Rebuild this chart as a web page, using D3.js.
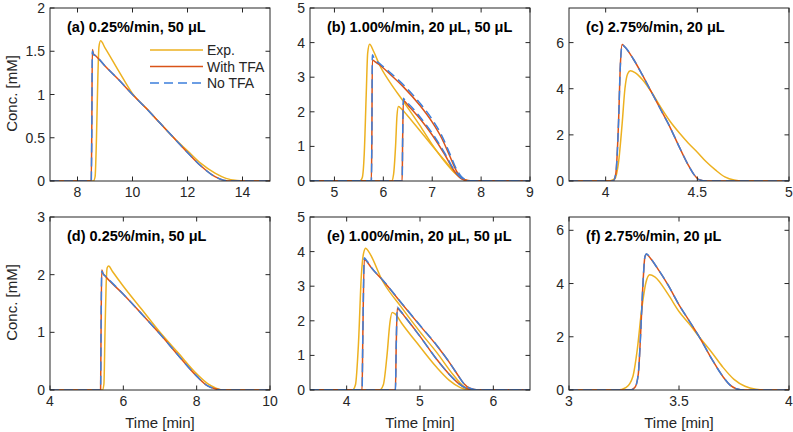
<!DOCTYPE html>
<html>
<head>
<meta charset="utf-8">
<script src="https://cdn.jsdelivr.net/npm/d3@7"></script>
<style>
  body { margin: 0; background: #fff; }
  svg { display: block; font-family: "Liberation Sans", Arial, sans-serif; }
</style>
</head>
<body>
<svg id="chart" width="793" height="432"></svg>
<script>
// [time, conc] pairs
const aExp  = [[7,0],[8.58,0],[8.64,0.05],[8.69,0.5],[8.74,1.2],[8.78,1.55],[8.84,1.62],[9.0,1.54],[9.5,1.27],[10,1.01],[10.5,0.84],[11,0.67],[11.5,0.5],[12,0.35],[12.5,0.2],[13,0.09],[13.4,0.03],[13.8,0.005],[14,0],[15,0]];
const aWith = [[7,0],[8.5,0],[8.52,0.6],[8.54,1.52],[8.58,1.47],[8.65,1.45],[9,1.33],[9.5,1.17],[10,1.0],[10.5,0.84],[11,0.67],[11.5,0.5],[12,0.33],[12.5,0.17],[13,0.05],[13.3,0.01],[13.6,0],[15,0]];
const aNo   = [[7,0],[8.5,0],[8.52,0.6],[8.54,1.5],[8.58,1.46],[8.65,1.45],[9,1.33],[9.5,1.17],[10,1.0],[10.5,0.84],[11,0.67],[11.5,0.5],[12,0.33],[12.5,0.17],[13,0.05],[13.3,0.01],[13.6,0],[15,0]];

const bExp1  = [[4.5,0],[5.52,0],[5.57,0.1],[5.61,0.8],[5.65,2.5],[5.68,3.7],[5.72,3.95],[5.8,3.75],[5.92,3.36],[6.15,2.82],[6.41,2.3],[6.75,1.6],[7.0,1.05],[7.25,0.57],[7.5,0.18],[7.65,0.04],[7.8,0],[9,0]];
const bExp2  = [[4.5,0],[6.17,0],[6.21,0.2],[6.25,1.0],[6.28,1.9],[6.31,2.15],[6.36,2.1],[6.5,1.88],[6.75,1.45],[7.0,1.02],[7.25,0.6],[7.5,0.2],[7.65,0.04],[7.8,0],[9,0]];
const bWith1 = [[4.5,0],[5.755,0],[5.765,1.2],[5.775,3.5],[5.82,3.46],[5.92,3.36],[6.15,3.07],[6.41,2.72],[6.75,2.18],[7.0,1.7],[7.2,1.22],[7.35,0.75],[7.5,0.28],[7.6,0.1],[7.7,0.02],[7.85,0],[9,0]];
const bNo1   = [[4.5,0],[5.755,0],[5.765,1.2],[5.775,3.65],[5.82,3.52],[5.92,3.4],[6.15,3.12],[6.41,2.78],[6.75,2.25],[7.0,1.78],[7.2,1.3],[7.35,0.82],[7.5,0.33],[7.6,0.12],[7.7,0.03],[7.85,0],[9,0]];
const bWith2 = [[4.5,0],[6.385,0],[6.395,1.2],[6.41,2.33],[6.45,2.28],[6.5,2.2],[6.75,1.8],[7.0,1.33],[7.25,0.78],[7.45,0.29],[7.6,0.06],[7.75,0],[9,0]];
const bNo2   = [[4.5,0],[6.385,0],[6.395,1.2],[6.41,2.39],[6.45,2.31],[6.5,2.25],[6.75,1.85],[7.0,1.38],[7.25,0.82],[7.45,0.32],[7.6,0.08],[7.75,0],[9,0]];

const cExp  = [[3.8,0],[4.02,0],[4.05,0.1],[4.07,0.8],[4.09,2.5],[4.105,4.0],[4.12,4.65],[4.135,4.78],[4.16,4.7],[4.2,4.4],[4.25,3.85],[4.3,3.2],[4.35,2.6],[4.4,2.1],[4.45,1.65],[4.5,1.25],[4.55,0.82],[4.6,0.47],[4.65,0.18],[4.7,0.04],[4.75,0],[5,0]];
const cWith = [[3.8,0],[4.04,0],[4.055,0.3],[4.07,2.5],[4.08,5.0],[4.09,5.92],[4.1,5.85],[4.15,5.3],[4.2,4.6],[4.25,3.85],[4.3,3.1],[4.35,2.35],[4.4,1.5],[4.45,0.7],[4.48,0.3],[4.51,0.06],[4.55,0],[5,0]];
const cNo   = [[3.8,0],[4.04,0],[4.055,0.3],[4.07,2.5],[4.08,5.0],[4.09,5.9],[4.1,5.85],[4.15,5.3],[4.2,4.6],[4.25,3.85],[4.3,3.1],[4.35,2.35],[4.4,1.5],[4.45,0.7],[4.48,0.3],[4.51,0.06],[4.55,0],[5,0]];

const dExp  = [[4,0],[5.43,0],[5.47,0.1],[5.5,1.0],[5.53,1.8],[5.56,2.12],[5.6,2.15],[5.7,2.06],[6,1.8],[6.5,1.4],[7,1.0],[7.5,0.64],[8,0.28],[8.3,0.11],[8.5,0.04],[8.7,0],[10,0]];
const dWith = [[4,0],[5.38,0],[5.39,0.8],[5.41,2.08],[5.45,2.02],[5.5,1.98],[6,1.66],[6.5,1.32],[7,0.97],[7.5,0.6],[8,0.24],[8.3,0.07],[8.5,0.02],[8.7,0],[10,0]];
const dNo   = [[4,0],[5.38,0],[5.39,0.8],[5.41,2.06],[5.45,2.01],[5.5,1.98],[6,1.66],[6.5,1.32],[7,0.97],[7.5,0.6],[8,0.24],[8.3,0.07],[8.5,0.02],[8.7,0],[10,0]];

const eExp1  = [[3.5,0],[4.08,0],[4.12,0.15],[4.16,1.3],[4.2,3.3],[4.23,3.95],[4.26,4.1],[4.3,4.0],[4.49,3.15],[4.75,2.38],[5.0,1.68],[5.23,1.08],[5.45,0.45],[5.6,0.1],[5.7,0.01],[5.8,0],[6.5,0]];
const eExp2  = [[3.5,0],[4.45,0],[4.5,0.15],[4.55,1.0],[4.59,1.95],[4.62,2.24],[4.66,2.2],[4.75,1.93],[5.0,1.25],[5.23,0.65],[5.4,0.28],[5.55,0.07],[5.7,0],[6.5,0]];
const eWith1 = [[3.5,0],[4.21,0],[4.22,1.5],[4.24,3.78],[4.28,3.7],[4.33,3.55],[4.5,3.15],[4.75,2.5],[5.0,1.86],[5.23,1.28],[5.4,0.8],[5.52,0.42],[5.6,0.18],[5.68,0.05],[5.8,0],[6.5,0]];
const eNo1   = [[3.5,0],[4.21,0],[4.22,1.5],[4.24,3.82],[4.28,3.72],[4.33,3.56],[4.5,3.16],[4.75,2.51],[5.0,1.87],[5.23,1.29],[5.4,0.8],[5.52,0.42],[5.6,0.18],[5.68,0.05],[5.8,0],[6.5,0]];
const eWith2 = [[3.5,0],[4.665,0],[4.675,1.2],[4.69,2.36],[4.72,2.31],[4.8,2.1],[5.0,1.55],[5.23,0.88],[5.4,0.45],[5.52,0.2],[5.62,0.06],[5.75,0],[6.5,0]];
const eNo2   = [[3.5,0],[4.665,0],[4.675,1.2],[4.69,2.39],[4.72,2.32],[4.8,2.1],[5.0,1.55],[5.23,0.88],[5.4,0.45],[5.52,0.2],[5.62,0.06],[5.75,0],[6.5,0]];

const fExp  = [[3,0],[3.22,0],[3.26,0.1],[3.29,0.5],[3.31,1.5],[3.33,3.0],[3.35,4.05],[3.367,4.33],[3.39,4.25],[3.45,3.6],[3.5,2.95],[3.55,2.45],[3.594,1.97],[3.65,1.4],[3.7,0.85],[3.75,0.4],[3.8,0.14],[3.85,0.03],[3.9,0],[4,0]];
const fWith = [[3,0],[3.28,0],[3.3,0.1],[3.315,0.6],[3.325,2.0],[3.335,3.8],[3.345,5.0],[3.352,5.1],[3.37,4.95],[3.4,4.6],[3.45,3.95],[3.5,3.2],[3.55,2.55],[3.594,1.97],[3.65,1.15],[3.7,0.5],[3.73,0.2],[3.76,0.05],[3.8,0],[4,0]];
const fNo   = [[3,0],[3.28,0],[3.3,0.1],[3.315,0.6],[3.325,2.0],[3.335,3.8],[3.345,5.0],[3.352,5.12],[3.37,4.96],[3.4,4.6],[3.45,3.95],[3.5,3.2],[3.55,2.55],[3.594,1.97],[3.65,1.15],[3.7,0.5],[3.73,0.2],[3.76,0.05],[3.8,0],[4,0]];

const panels = [
  {title: "(a) 0.25%/min, 50 μL", x: [7, 15], xt: [8, 10, 12, 14], y: [0, 2], yt: [0, 0.5, 1, 1.5, 2], exp: [aExp], withTFA: [aWith], noTFA: [aNo]},
  {title: "(b) 1.00%/min, 20 μL, 50 μL", x: [4.5, 9], xt: [5, 6, 7, 8, 9], y: [0, 5], yt: [0, 1, 2, 3, 4, 5], exp: [bExp1, bExp2], withTFA: [bWith1, bWith2], noTFA: [bNo1, bNo2]},
  {title: "(c) 2.75%/min, 20 μL", x: [3.8, 5], xt: [4, 4.5, 5], y: [0, 7.5], yt: [0, 2, 4, 6], exp: [cExp], withTFA: [cWith], noTFA: [cNo]},
  {title: "(d) 0.25%/min, 50 μL", x: [4, 10], xt: [4, 6, 8, 10], y: [0, 3], yt: [0, 1, 2, 3], exp: [dExp], withTFA: [dWith], noTFA: [dNo]},
  {title: "(e) 1.00%/min, 20 μL, 50 μL", x: [3.5, 6.5], xt: [4, 5, 6], y: [0, 5], yt: [0, 1, 2, 3, 4, 5], exp: [eExp1, eExp2], withTFA: [eWith1, eWith2], noTFA: [eNo1, eNo2]},
  {title: "(f) 2.75%/min, 20 μL", x: [3, 4], xt: [3, 3.5, 4], y: [0, 6.5], yt: [0, 2, 4, 6], exp: [fExp], withTFA: [fWith], noTFA: [fNo]}
];

const legendLabels = ["Exp.", "With TFA", "No TFA"];

const colors = {exp: "#EDB120", withTFA: "#D95319", noTFA: "#3D7FDB"};
const axisColor = "#262626";
const dash = "9,5";

const colLeft = [50, 310, 569];
const rowTop = [8, 217];
const pw = 220, ph = 173;
const tickLen = 4.5;

const svg = d3.select("#chart");

panels.forEach((p, i) => {
  const col = i % 3, row = Math.floor(i / 3);
  const g = svg.append("g").attr("transform", `translate(${colLeft[col]},${rowTop[row]})`);

  const x = d3.scaleLinear().domain(p.x).range([0, pw]);
  const y = d3.scaleLinear().domain(p.y).range([ph, 0]);

  const clipId = "clip" + i;
  g.append("clipPath").attr("id", clipId)
    .append("rect").attr("width", pw).attr("height", ph);

  const line = d3.line()
    .x(d => x(d[0]))
    .y(d => y(d[1]))
    .curve(d3.curveMonotoneX);

  const lines = g.append("g").attr("clip-path", `url(#${clipId})`);
  p.exp.forEach(s => lines.append("path").attr("d", line(s))
    .attr("fill", "none").attr("stroke", colors.exp).attr("stroke-width", 1.5));
  p.withTFA.forEach(s => lines.append("path").attr("d", line(s))
    .attr("fill", "none").attr("stroke", colors.withTFA).attr("stroke-width", 1.5));
  p.noTFA.forEach(s => lines.append("path").attr("d", line(s))
    .attr("fill", "none").attr("stroke", colors.noTFA).attr("stroke-width", 1.5)
    .attr("stroke-dasharray", dash));

  // ticks on all four sides, pointing inward
  const ticks = g.append("g").attr("stroke", axisColor).attr("stroke-width", 1);
  p.xt.forEach(t => {
    ticks.append("line").attr("x1", x(t)).attr("x2", x(t)).attr("y1", ph).attr("y2", ph - tickLen);
    ticks.append("line").attr("x1", x(t)).attr("x2", x(t)).attr("y1", 0).attr("y2", tickLen);
  });
  p.yt.forEach(t => {
    ticks.append("line").attr("x1", 0).attr("x2", tickLen).attr("y1", y(t)).attr("y2", y(t));
    ticks.append("line").attr("x1", pw).attr("x2", pw - tickLen).attr("y1", y(t)).attr("y2", y(t));
  });

  g.append("rect").attr("width", pw).attr("height", ph)
    .attr("fill", "none").attr("stroke", axisColor).attr("stroke-width", 1);

  g.selectAll(".xl").data(p.xt).join("text")
    .attr("x", d => x(d)).attr("y", ph + 15.5)
    .attr("text-anchor", "middle").attr("font-size", 14).attr("fill", axisColor)
    .text(d => d);
  g.selectAll(".yl").data(p.yt).join("text")
    .attr("x", -5).attr("y", d => y(d) + 5)
    .attr("text-anchor", "end").attr("font-size", 14).attr("fill", axisColor)
    .text(d => d);

  g.append("text").attr("x", 17).attr("y", 24)
    .attr("font-size", 14.5).attr("font-weight", "bold").attr("fill", "#000")
    .text(p.title);

  if (col === 0) {
    g.append("text")
      .attr("transform", `translate(${-33},${ph / 2 - 1}) rotate(-90)`)
      .attr("text-anchor", "middle").attr("font-size", 15).attr("fill", axisColor)
      .text("Conc. [mM]");
  }
  if (row === 1) {
    g.append("text").attr("x", pw / 2).attr("y", ph + 38)
      .attr("text-anchor", "middle").attr("font-size", 15).attr("fill", axisColor)
      .text("Time [min]");
  }

  if (i === 0) {
    const lg = g.append("g").attr("transform", "translate(100,42)");
    const keys = ["exp", "withTFA", "noTFA"];
    keys.forEach((k, j) => {
      const yy = j * 16.5;
      lg.append("line").attr("x1", 0).attr("x2", 53).attr("y1", yy).attr("y2", yy)
        .attr("stroke", colors[k]).attr("stroke-width", 1.5)
        .attr("stroke-dasharray", k === "noTFA" ? dash : null);
      lg.append("text").attr("x", 57).attr("y", yy + 5)
        .attr("font-size", 14).attr("fill", axisColor).text(legendLabels[j]);
    });
  }
});
</script>
</body>
</html>
